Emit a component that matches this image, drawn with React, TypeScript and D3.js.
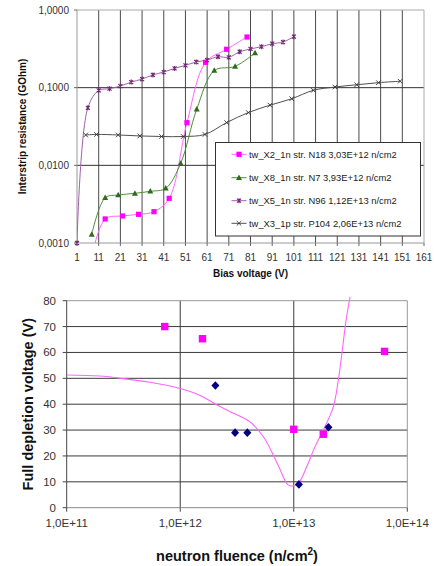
import * as d3 from "d3";

const FONT = "Arial, 'Liberation Sans', sans-serif";

// ---- top chart: interstrip resistance (GOhm) vs bias voltage (V)
const biasTicks = [1, 11, 21, 31, 41, 51, 61, 71, 81, 91, 101, 111, 121, 131, 141, 151, 161];
const resTicks = [0.001, 0.01, 0.1, 1];
const resTickLabels = ["0,0010", "0,0100", "0,1000", "1,0000"];

const x2Bias = [8, 14, 22, 29.4, 36.5, 43.5, 51.7, 60.3, 70, 79.4];
const x2Res = [0.0007, 0.00204, 0.00223, 0.00234, 0.00253, 0.00376, 0.0354, 0.212, 0.312, 0.449];

const x8Bias = [7.8, 14, 20, 27.7, 34.8, 41.9, 48.8, 56.2, 64.3, 73.9, 83.1];
const x8Res = [0.00129, 0.00383, 0.00415, 0.00436, 0.00463, 0.00506, 0.0106, 0.0527, 0.166, 0.188, 0.28];

const x5Bias = [1, 6, 11, 16, 21, 26, 31, 36, 41, 46, 51, 56, 61, 66, 71, 76, 81, 86, 91, 96, 101];
const x5Res = [0.001, 0.055, 0.092, 0.097, 0.105, 0.118, 0.129, 0.146, 0.159, 0.177, 0.194, 0.214,
  0.227, 0.25, 0.246, 0.29, 0.315, 0.337, 0.368, 0.387, 0.454];

const x3Bias = [5, 10, 20, 30, 40, 50, 60, 70, 80, 90, 100, 110, 120, 130, 140, 150];
const x3Res = [0.0246, 0.025, 0.0246, 0.0239, 0.0235, 0.0235, 0.025, 0.0355, 0.0478, 0.0595,
  0.072, 0.0925, 0.102, 0.109, 0.116, 0.121];

const legendLabels = [
  "tw_X2_1n str. N18 3,03E+12 n/cm2",
  "tw_X8_1n str. N7 3,93E+12 n/cm2",
  "tw_X5_1n str. N96 1,12E+13 n/cm2",
  "tw_X3_1p str. P104 2,06E+13 n/cm2",
];

// ---- bottom chart: full depletion voltage vs neutron fluence
const fluTicks = [1e11, 1e12, 1e13, 1e14];
const fluTickLabels = ["1,0E+11", "1,0E+12", "1,0E+13", "1,0E+14"];
const fdvTicks = [0, 10, 20, 30, 40, 50, 60, 70, 80];

const sqFluence = [7.3e11, 1.57e12, 1.0e13, 1.82e13, 6.3e13];
const sqVoltage = [70, 65.3, 30.3, 28.4, 60.4];

const dmFluence = [2.04e12, 3.04e12, 3.9e12, 1.11e13, 2.02e13];
const dmVoltage = [47.2, 29, 29, 9, 31.1];

const fitFluence = [1e11, 1.95e11, 3.4e11, 5.4e11, 7.6e11, 1e12, 1.5e12, 2e12, 2.75e12, 4.1e12,
  5.4e12, 6.6e12, 7.6e12, 8.9e12, 9.9e12, 1.1e13, 1.3e13, 1.54e13, 1.82e13, 2.23e13, 2.47e13,
  2.7e13, 2.89e13, 3.13e13];
const fitVoltage = [51.3, 50.9, 49.7, 48.5, 47.3, 46.1, 43.4, 40.3, 37.1, 33.2,
  27.4, 20.4, 14.6, 8.8, 8.4, 9.4, 15.8, 23.6, 30.0, 39.0, 49.4,
  62.2, 72.5, 81.5];

const zip = (a: number[], b: number[]) => a.map((v, i) => [v, b[i]] as [number, number]);

type Mk = "square" | "triangle" | "star" | "cross";

const Marker = ({ kind, cx, cy, color }: { kind: Mk; cx: number; cy: number; color: string }) => {
  if (kind === "square") return <rect x={cx - 2.6} y={cy - 2.6} width={5.2} height={5.2} fill={color} />;
  if (kind === "triangle")
    return <path d={`M${cx},${cy - 3.2}L${cx + 3},${cy + 2.3}L${cx - 3},${cy + 2.3}Z`} fill={color} />;
  if (kind === "star")
    return (
      <path d={`M${cx - 2},${cy - 2}L${cx + 2},${cy + 2}M${cx - 2},${cy + 2}L${cx + 2},${cy - 2}M${cx},${cy - 2.5}L${cx},${cy + 2.5}`}
        stroke={color} strokeWidth={1.1} />
    );
  return (
    <path d={`M${cx - 2.3},${cy - 2.3}L${cx + 2.3},${cy + 2.3}M${cx - 2.3},${cy + 2.3}L${cx + 2.3},${cy - 2.3}`}
      stroke={color} strokeWidth={0.9} />
  );
};

const TopChart = () => {
  const left = 77, right = 424, top = 10, bottom = 243;
  const x = d3.scaleLinear().domain([1, 161]).range([left, right]);
  const y = d3.scaleLog().domain([0.001, 1]).range([bottom, top]);
  const line = d3.line<[number, number]>()
    .x(d => x(d[0]))
    .y(d => y(d[1]))
    .curve(d3.curveCatmullRom.alpha(0.5));

  const series = [
    { data: zip(x2Bias, x2Res), line: "#ff66ff", mark: "#ff00ff", kind: "square" as Mk },
    { data: zip(x8Bias, x8Res), line: "#4f8f3a", mark: "#2e6b1c", kind: "triangle" as Mk },
    { data: zip(x5Bias, x5Res), line: "#a060a8", mark: "#702870", kind: "star" as Mk },
    { data: zip(x3Bias, x3Res), line: "#505050", mark: "#333333", kind: "cross" as Mk },
  ];

  const lgX = 215.5, lgY = 142.5, lgW = 205, lgH = 93.5;
  const lgRows = [154.3, 177.7, 200.7, 223.3];

  return (
    <g fontFamily={FONT}>
      <defs>
        <clipPath id="topclip">
          <rect x={left} y={top - 2} width={right - left} height={bottom - top + 2} />
        </clipPath>
      </defs>
      {/* grid */}
      {biasTicks.slice(1, -1).map(t => (
        <line key={t} x1={x(t)} x2={x(t)} y1={top} y2={bottom} stroke="#4a4a4a" strokeWidth={1} />
      ))}
      {resTicks.slice(1, -1).map(t => (
        <line key={t} x1={left} x2={right} y1={y(t)} y2={y(t)} stroke="#333" strokeWidth={1} />
      ))}
      <line x1={left} x2={right} y1={top} y2={top} stroke="#aaa" />
      <line x1={right} x2={right} y1={top} y2={bottom} stroke="#aaa" />
      <line x1={left} x2={left} y1={top} y2={bottom} stroke="#999" />
      <line x1={left} x2={right} y1={bottom} y2={bottom} stroke="#999" />
      {biasTicks.map(t => (
        <g key={t}>
          <line x1={x(t)} x2={x(t)} y1={bottom} y2={bottom + 3} stroke="#666" />
          <text x={x(t)} y={261} fontSize={10} fill="#333" textAnchor="middle">{t}</text>
        </g>
      ))}
      {resTicks.map((t, i) => (
        <g key={t}>
          <line x1={left - 3} x2={left} y1={y(t)} y2={y(t)} stroke="#666" />
          <text x={69} y={y(t) + 3.5} fontSize={10} fill="#333" textAnchor="end">{resTickLabels[i]}</text>
        </g>
      ))}
      <text x={(left + right) / 2} y={277} fontSize={10} fontWeight="bold" textAnchor="middle" fill="#111">
        Bias voltage (V)
      </text>
      <text transform={`translate(25.5,${(top + bottom) / 2}) rotate(-90)`} fontSize={10} fontWeight="bold"
        textAnchor="middle" fill="#111">
        Interstrip resistance (GOhm)
      </text>
      {/* series */}
      <g clipPath="url(#topclip)">
        {series.map((s, i) => (
          <path key={i} d={line(s.data) ?? ""} fill="none" stroke={s.line} strokeWidth={1} />
        ))}
      </g>
      {series.map((s, i) =>
        s.data
          .filter(d => d[1] >= 0.001)
          .map((d, j) => <Marker key={`${i}-${j}`} kind={s.kind} cx={x(d[0])} cy={y(d[1])} color={s.mark} />)
      )}
      {/* legend */}
      <rect x={lgX} y={lgY} width={lgW} height={lgH} fill="#fff" stroke="#333" strokeWidth={1} />
      {series.map((s, i) => (
        <g key={i}>
          <line x1={231.5} x2={246.5} y1={lgRows[i]} y2={lgRows[i]} stroke={s.line} strokeWidth={1} />
          <Marker kind={s.kind} cx={239} cy={lgRows[i]} color={s.mark} />
          <text x={249} y={lgRows[i] + 3.5} fontSize={9.4} fill="#222">{legendLabels[i]}</text>
        </g>
      ))}
    </g>
  );
};

const BottomChart = () => {
  const left = 66.7, right = 407.3, top = 300.7, bottom = 507.7;
  const x = d3.scaleLog().domain([1e11, 1e14]).range([left, right]);
  const y = d3.scaleLinear().domain([0, 80]).range([bottom, top]);
  const fit = d3.line<[number, number]>()
    .x(d => x(d[0]))
    .y(d => y(d[1]))
    .curve(d3.curveCatmullRom.alpha(0.5));

  return (
    <g fontFamily={FONT}>
      {fdvTicks.slice(1, -1).map(t => (
        <line key={t} x1={left} x2={right} y1={y(t)} y2={y(t)} stroke="#3a3a3a" />
      ))}
      {fluTicks.slice(1, -1).map(t => (
        <line key={t} x1={x(t)} x2={x(t)} y1={top} y2={bottom} stroke="#3a3a3a" />
      ))}
      <line x1={left} x2={right} y1={top} y2={top} stroke="#999" />
      <line x1={right} x2={right} y1={top} y2={bottom} stroke="#999" />
      <line x1={left} x2={left} y1={top} y2={bottom} stroke="#444" />
      <line x1={left} x2={right} y1={bottom} y2={bottom} stroke="#888" />
      {fdvTicks.map(t => (
        <g key={t}>
          <line x1={left - 4} x2={left} y1={y(t)} y2={y(t)} stroke="#444" />
          <text x={56} y={y(t) + 4} fontSize={11.5} fill="#333" textAnchor="end">{t}</text>
        </g>
      ))}
      {fluTicks.map((t, i) => (
        <g key={t}>
          <line x1={x(t)} x2={x(t)} y1={bottom} y2={bottom + 4} stroke="#444" />
          <text x={x(t)} y={527} fontSize={11.5} fill="#333" textAnchor="middle">{fluTickLabels[i]}</text>
        </g>
      ))}
      <text x={(left + right) / 2} y={561} fontSize={14.5} fontWeight="bold" textAnchor="middle" fill="#111">
        neutron fluence (n/cm<tspan dy={-6} fontSize={10}>2</tspan><tspan dy={6}>)</tspan>
      </text>
      <text transform={`translate(33,${(top + bottom) / 2}) rotate(-90)`} fontSize={14.5} fontWeight="bold"
        textAnchor="middle" fill="#111">
        Full depletion voltage (V)
      </text>
      <path d={fit(zip(fitFluence, fitVoltage)) ?? ""} fill="none" stroke="#ff66ff" strokeWidth={1.1} />
      {sqFluence.map((f, i) => (
        <rect key={i} x={x(f) - 3.7} y={y(sqVoltage[i]) - 3.7} width={7.4} height={7.4} fill="#ff00ff" />
      ))}
      {dmFluence.map((f, i) => {
        const cx = x(f), cy = y(dmVoltage[i]);
        return <path key={i} d={`M${cx},${cy - 4.3}L${cx + 4},${cy}L${cx},${cy + 4.3}L${cx - 4},${cy}Z`} fill="#000080" />;
      })}
    </g>
  );
};

export default function App() {
  return (
    <div style={{ position: "absolute", left: 0, top: 0, background: "#fff" }}>
      <svg width={434} height={566} style={{ display: "block" }}>
        <rect width={434} height={566} fill="#fff" />
        <TopChart />
        <BottomChart />
      </svg>
    </div>
  );
}
